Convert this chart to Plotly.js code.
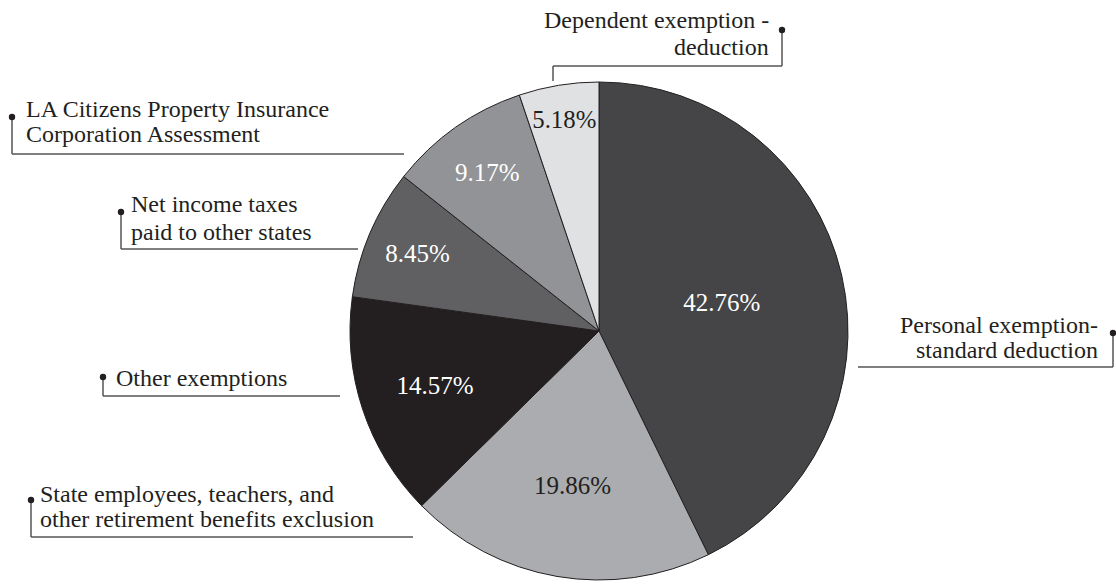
<!DOCTYPE html>
<html>
<head>
<meta charset="utf-8">
<script src="https://cdn.plot.ly/plotly-3.0.1.min.js"></script>
<style>html,body{margin:0;padding:0;background:#fff;}#chart{width:1116px;height:585px;}</style>
</head>
<body>
<div id="chart"></div>
<script>
// ---- Data ----
const categories = [
  'Personal exemption-standard deduction',
  'State employees, teachers, and other retirement benefits exclusion',
  'Other exemptions',
  'Net income taxes paid to other states',
  'LA Citizens Property Insurance Corporation Assessment',
  'Dependent exemption - deduction'
];
const values = [42.76, 19.86, 14.57, 8.45, 9.17, 5.18];
const sliceColors = ['#454547', '#abacaf', '#231f20', '#606062', '#929396', '#e0e1e3'];
const pctTextColors = ['#ffffff', '#231f20', '#ffffff', '#ffffff', '#ffffff', '#231f20'];
const labelLines = [
  ['Personal exemption-', 'standard deduction'],
  ['State employees, teachers, and', 'other retirement benefits exclusion'],
  ['Other exemptions'],
  ['Net income taxes', 'paid to other states'],
  ['LA Citizens Property Insurance', 'Corporation Assessment'],
  ['Dependent exemption -', 'deduction']
];

// ---- Layout helpers (pixel -> paper) ----
const W = 1116, H = 585;
const px = x => x / W;
const py = y => 1 - y / H;
const FONT = '"Liberation Serif", "DejaVu Serif", serif';
const INK = '#231f20';
const LINE = '#555555';

// callout geometry: text anchor side, text x, baselines, dot, bracket path
const callouts = [
  {side: 'right', tx: 1099, base: [333, 358], dot: [1113, 333], path: [[1113, 333], [1113, 367], [858, 367]]},
  {side: 'left', tx: 39, base: [502, 527], dot: [31, 500], path: [[31, 500], [31, 537], [413, 537]]},
  {side: 'left', tx: 115, base: [386], dot: [103, 377], path: [[103, 377], [103, 396], [340, 396]]},
  {side: 'left', tx: 130, base: [212, 240], dot: [121, 212], path: [[121, 212], [121, 249], [358, 249]]},
  {side: 'left', tx: 25, base: [117, 142], dot: [12, 117], path: [[12, 117], [12, 154], [404, 154]]},
  {side: 'right', tx: 770, base: [28, 55], dot: [782, 30], path: [[782, 30], [782, 66], [553, 66], [553, 81]]}
];

const shapes = [];
const annotations = [];
callouts.forEach((c, i) => {
  for (let k = 0; k < c.path.length - 1; k++) {
    shapes.push({type: 'line', xref: 'paper', yref: 'paper',
      x0: px(c.path[k][0]), y0: py(c.path[k][1]), x1: px(c.path[k + 1][0]), y1: py(c.path[k + 1][1]),
      line: {color: LINE, width: 1.5}});
  }
  const r = 3.2;
  shapes.push({type: 'circle', xref: 'paper', yref: 'paper',
    x0: px(c.dot[0] - r), x1: px(c.dot[0] + r), y0: py(c.dot[1] + r), y1: py(c.dot[1] - r),
    fillcolor: INK, line: {width: 0}});
  labelLines[i].forEach((t, j) => {
    annotations.push({xref: 'paper', yref: 'paper', x: px(c.tx), y: py(c.base[j] - 8),
      xanchor: c.side, yanchor: 'middle', showarrow: false, text: t,
      align: c.side, font: {family: FONT, size: 24, color: INK}, borderpad: 0});
  });
});

// pie domain: center (599, 331), radius 249
const cx = 599, cy = 331, R = 249;
const trace = {
  type: 'pie',
  labels: categories,
  values: values,
  sort: false,
  direction: 'clockwise',
  rotation: 0,
  marker: {colors: sliceColors, line: {color: INK, width: 1}},
  texttemplate: '%{percent:.2%}',
  textposition: 'inside',
  insidetextorientation: 'horizontal',
  insidetextfont: {family: FONT, size: 25, color: pctTextColors},
  hoverinfo: 'none',
  domain: {x: [px(cx - R), px(cx + R)], y: [py(cy + R), py(cy - R)]}
};

const layout = {
  width: W, height: H,
  margin: {l: 0, r: 0, t: 0, b: 0},
  paper_bgcolor: '#ffffff',
  plot_bgcolor: '#ffffff',
  showlegend: false,
  hovermode: false,
  shapes: shapes,
  annotations: annotations,
  font: {family: FONT, color: INK}
};

Plotly.newPlot('chart', [trace], layout, {displayModeBar: false, staticPlot: true});
</script>
</body>
</html>
